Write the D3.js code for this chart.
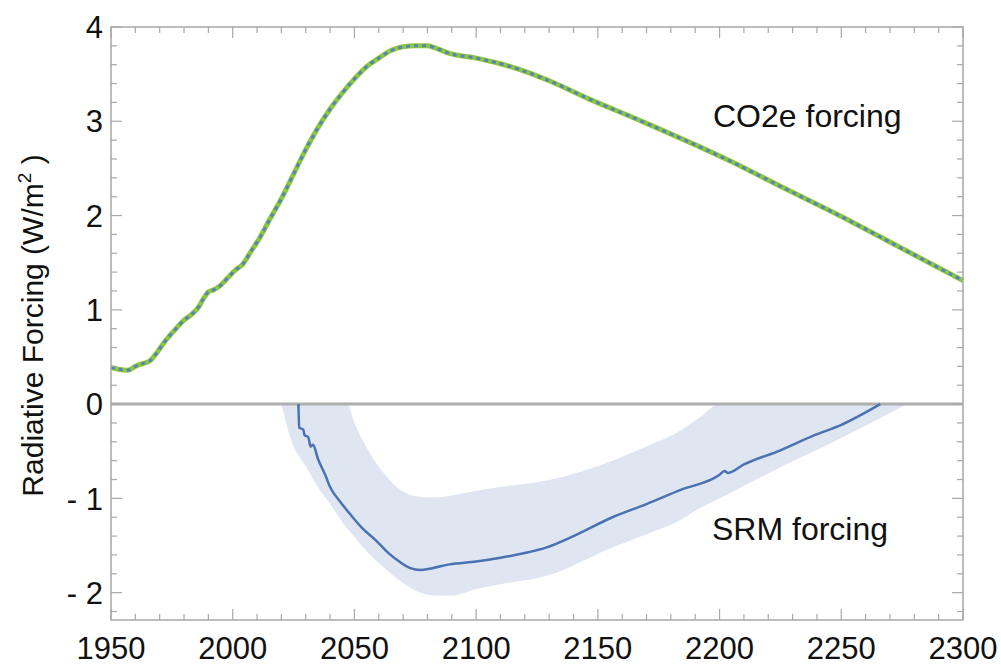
<!DOCTYPE html>
<html>
<head>
  <meta charset="utf-8">
  <title>Radiative Forcing</title>
  <script src="https://cdn.jsdelivr.net/npm/d3@7"></script>
  <style>
    body { margin: 0; background: #fff; }
    text { font-family: "Liberation Sans", Arial, Helvetica, sans-serif; fill: #111; }
  </style>
</head>
<body>
  <div id="chart"></div>
  <script>
    // CO2e forcing (green/blue dashed line)
    const co2Years = [1950, 1953, 1957, 1960, 1963, 1966, 1969, 1972, 1976, 1980, 1983, 1986, 1988, 1990, 1992, 1995, 1998, 2001, 2004, 2008, 2011, 2015, 2020, 2025, 2030, 2035, 2040, 2045, 2050, 2055, 2060, 2065, 2070, 2075, 2080, 2083, 2089, 2100, 2110, 2120, 2130, 2147, 2168, 2205, 2225, 2250, 2275, 2300];
    const co2Values = [0.39, 0.37, 0.36, 0.40, 0.43, 0.46, 0.55, 0.66, 0.78, 0.89, 0.95, 1.03, 1.12, 1.19, 1.21, 1.26, 1.34, 1.42, 1.48, 1.64, 1.76, 1.95, 2.18, 2.44, 2.70, 2.93, 3.13, 3.30, 3.45, 3.58, 3.67, 3.75, 3.79, 3.80, 3.80, 3.78, 3.72, 3.67, 3.61, 3.53, 3.43, 3.23, 3.00, 2.57, 2.31, 1.99, 1.65, 1.31];

    // SRM forcing (solid blue line)
    const srmYears = [2027, 2027.3, 2029, 2029.5, 2031, 2032, 2033, 2035, 2038, 2040, 2044, 2048, 2053, 2059, 2064, 2069, 2073, 2077, 2082, 2089, 2100, 2110, 2120, 2129, 2140, 2156, 2170, 2184, 2200, 2202, 2203.5, 2210, 2225, 2239, 2250, 2266];
    const srmValues = [0, -0.25, -0.27, -0.33, -0.35, -0.45, -0.43, -0.58, -0.75, -0.88, -1.03, -1.16, -1.31, -1.45, -1.58, -1.68, -1.74, -1.76, -1.74, -1.70, -1.67, -1.63, -1.58, -1.52, -1.40, -1.20, -1.06, -0.91, -0.75, -0.71, -0.73, -0.64, -0.49, -0.33, -0.22, 0];

    // SRM uncertainty band
    const bandYears = [2020, 2024, 2030, 2035, 2040, 2047, 2050, 2055, 2062, 2069, 2076, 2083, 2090, 2100, 2110, 2129, 2156, 2170, 2184, 2192, 2200, 2225, 2250, 2277];
    const bandLow = [0, -0.38, -0.66, -0.88, -1.06, -1.32, -1.41, -1.56, -1.73, -1.88, -1.99, -2.03, -2.03, -1.96, -1.91, -1.82, -1.52, -1.38, -1.23, -1.10, -1.00, -0.67, -0.36, 0];
    const bandHigh = [0, 0, 0, 0, 0, 0, -0.20, -0.46, -0.73, -0.91, -0.98, -0.99, -0.97, -0.92, -0.88, -0.81, -0.60, -0.45, -0.28, -0.14, 0, 0, 0, 0];

    const xTicks = [1950, 2000, 2050, 2100, 2150, 2200, 2250, 2300];
    const yTicks = [-2, -1, 0, 1, 2, 3, 4];
    const yTickLabels = ["- 2", "- 1", "0", "1", "2", "3", "4"];

    const w = 1001, h = 665;
    const pLeft = 111, pRight = 963, pTop = 27, pBottom = 620;

    const x = d3.scaleLinear().domain([1950, 2300]).range([pLeft, pRight]);
    const y = d3.scaleLinear().domain([-2.29, 4]).range([pBottom, pTop]);

    const svg = d3.select("#chart").append("svg")
      .attr("width", w)
      .attr("height", h);

    const frameColor = "#a8a8a8";

    // band
    const band = bandYears.map((yr, i) => ({ yr, lo: bandLow[i], hi: bandHigh[i] }));
    svg.append("path")
      .datum(band)
      .attr("fill", "#dfe6f2")
      .attr("d", d3.area()
        .x(d => x(d.yr))
        .y0(d => y(d.lo))
        .y1(d => y(d.hi))
        .curve(d3.curveMonotoneX));

    // zero line
    svg.append("line")
      .attr("x1", pLeft).attr("x2", pRight)
      .attr("y1", y(0)).attr("y2", y(0))
      .attr("stroke", "#aeaeae")
      .attr("stroke-width", 3);

    // SRM line
    const srm = srmYears.map((yr, i) => [yr, srmValues[i]]);
    svg.append("path")
      .datum(srm)
      .attr("fill", "none")
      .attr("stroke", "#4a72b2")
      .attr("stroke-width", 2.5)
      .attr("stroke-linejoin", "round")
      .attr("d", d3.line().x(d => x(d[0])).y(d => y(d[1])).curve(d3.curveMonotoneX));

    // CO2e line: green underneath, blue dashes on top
    const co2 = co2Years.map((yr, i) => [yr, co2Values[i]]);
    const co2Line = d3.line().x(d => x(d[0])).y(d => y(d[1])).curve(d3.curveMonotoneX);
    svg.append("path")
      .datum(co2)
      .attr("fill", "none")
      .attr("stroke", "#8dc63f")
      .attr("stroke-width", 5)
      .attr("d", co2Line);
    svg.append("path")
      .datum(co2)
      .attr("fill", "none")
      .attr("stroke", "#5584b8")
      .attr("stroke-width", 3)
      .attr("stroke-dasharray", "4,4")
      .attr("d", co2Line);

    // frame
    svg.append("rect")
      .attr("x", pLeft).attr("y", pTop)
      .attr("width", pRight - pLeft).attr("height", pBottom - pTop)
      .attr("fill", "none")
      .attr("stroke", frameColor)
      .attr("stroke-width", 1.5);

    // ticks inward on all sides
    const xMinor = d3.range(1950, 2301, 10);
    const yMinor = d3.range(-22, 41, 2).map(v => v / 10);
    const ticks = svg.append("g").attr("stroke", frameColor).attr("stroke-width", 1.2);
    xMinor.forEach(v => {
      const len = v % 50 === 0 ? 11 : 6;
      ticks.append("line").attr("x1", x(v)).attr("x2", x(v)).attr("y1", pBottom).attr("y2", pBottom - len);
      ticks.append("line").attr("x1", x(v)).attr("x2", x(v)).attr("y1", pTop).attr("y2", pTop + len);
    });
    yMinor.forEach(v => {
      const len = Math.abs(v - Math.round(v)) < 1e-6 ? 11 : 6;
      ticks.append("line").attr("y1", y(v)).attr("y2", y(v)).attr("x1", pLeft).attr("x2", pLeft + len);
      ticks.append("line").attr("y1", y(v)).attr("y2", y(v)).attr("x1", pRight).attr("x2", pRight - len);
    });

    // tick labels
    svg.append("g").selectAll("text")
      .data(xTicks)
      .enter()
      .append("text")
      .attr("x", d => x(d))
      .attr("y", 659)
      .attr("text-anchor", "middle")
      .attr("font-size", 31)
      .text(d => d);

    svg.append("g").selectAll("text")
      .data(yTicks)
      .enter()
      .append("text")
      .attr("x", 103)
      .attr("y", d => y(d))
      .attr("dy", "0.36em")
      .attr("text-anchor", "end")
      .attr("font-size", 31)
      .text((d, i) => yTickLabels[i]);

    // y axis label
    const yl = svg.append("text")
      .attr("transform", "translate(43," + ((pTop + pBottom) / 2 + 2) + ") rotate(-90)")
      .attr("text-anchor", "middle")
      .attr("font-size", 30);
    yl.append("tspan").text("Radiative Forcing (W/m");
    yl.append("tspan").attr("font-size", 19).attr("dy", -12).text("2");
    yl.append("tspan").attr("dy", 12).text(" )");

    // annotations
    svg.append("text")
      .attr("x", 713).attr("y", 127)
      .attr("font-size", 32)
      .text("CO2e forcing");
    svg.append("text")
      .attr("x", 712).attr("y", 540)
      .attr("font-size", 32)
      .text("SRM forcing");
  </script>
</body>
</html>
